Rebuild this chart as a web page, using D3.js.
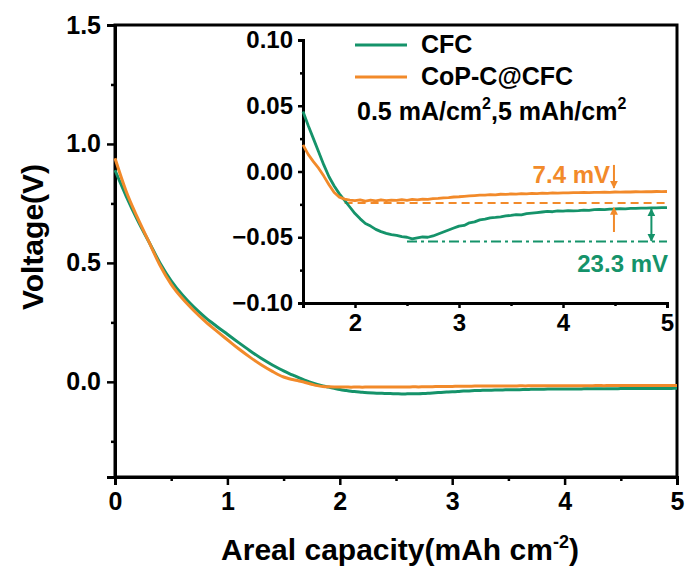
<!DOCTYPE html>
<html>
<head>
<meta charset="utf-8">
<script src="https://cdn.jsdelivr.net/npm/d3@7"></script>
<style>
  html, body { margin: 0; padding: 0; background: #fff; }
  svg text { font-family: "Liberation Sans", Arial, sans-serif; font-weight: bold; }
</style>
</head>
<body>
<svg id="chart" width="686" height="570"></svg>
<script>
// ---------------- DATA ----------------
const capacity = [
  0, 0.1, 0.2, 0.3, 0.4, 0.5, 0.6, 0.7, 0.8, 0.9, 1.0, 1.1, 1.2, 1.3, 1.4, 1.45,
  1.50, 1.55, 1.60, 1.65, 1.70, 1.75, 1.80, 1.85, 1.90, 1.95,
  2.00, 2.05, 2.10, 2.15, 2.20, 2.25, 2.30, 2.35, 2.40, 2.45,
  2.50, 2.55, 2.60, 2.65, 2.70, 2.75, 2.80, 2.85, 2.90, 2.95,
  3.00, 3.05, 3.10, 3.15, 3.20, 3.25, 3.30, 3.35, 3.40, 3.45,
  3.50, 3.55, 3.60, 3.65, 3.70, 3.75, 3.80, 3.85, 3.90, 3.95,
  4.00, 4.05, 4.10, 4.15, 4.20, 4.25, 4.30, 4.35, 4.40, 4.45,
  4.50, 4.55, 4.60, 4.65, 4.70, 4.75, 4.80, 4.85, 4.90, 4.95, 5.00
];
const voltageCFC = [
  0.89, 0.78, 0.68, 0.59, 0.50, 0.425, 0.365, 0.315, 0.272, 0.235, 0.20, 0.165, 0.131, 0.099, 0.071, 0.058,
  0.0457, 0.035, 0.025, 0.015, 0.005, -0.004, -0.011, -0.017, -0.022, -0.027,
  -0.032, -0.036, -0.0395, -0.0415, -0.044, -0.0457, -0.047, -0.048, -0.0485, -0.0495,
  -0.050, -0.0512, -0.0505, -0.0498, -0.050, -0.049, -0.0475, -0.046, -0.0445, -0.043,
  -0.0415, -0.041, -0.039, -0.0383, -0.0368, -0.0362, -0.0352, -0.0349, -0.0345, -0.0338,
  -0.0334, -0.0328, -0.033, -0.032, -0.0316, -0.0312, -0.0308, -0.0304, -0.0306, -0.030,
  -0.0302, -0.0297, -0.0299, -0.0297, -0.0293, -0.0295, -0.029, -0.0288, -0.029, -0.0286,
  -0.0285, -0.0283, -0.0284, -0.028, -0.0281, -0.0278, -0.0279, -0.0276, -0.0277, -0.0275, -0.0274
];
const voltageCoP = [
  0.94, 0.80, 0.69, 0.59, 0.49, 0.41, 0.35, 0.30, 0.255, 0.215, 0.177, 0.139, 0.104, 0.072, 0.044, 0.031,
  0.0203, 0.013, 0.0075, 0.0025, -0.0035, -0.010, -0.016, -0.0195, -0.021, -0.0218,
  -0.0222, -0.0216, -0.0225, -0.0218, -0.0223, -0.0215, -0.0222, -0.0217, -0.022, -0.0214,
  -0.0219, -0.0212, -0.0216, -0.021, -0.0212, -0.0206, -0.0204, -0.020, -0.0199, -0.0194,
  -0.0192, -0.0189, -0.0186, -0.0183, -0.018, -0.0179, -0.0176, -0.0177, -0.0173, -0.0174,
  -0.0171, -0.0172, -0.0169, -0.017, -0.0167, -0.0168, -0.0165, -0.0166, -0.0163, -0.0164,
  -0.0162, -0.0163, -0.016, -0.0161, -0.0159, -0.016, -0.0158, -0.0159, -0.0157, -0.0158,
  -0.0156, -0.0157, -0.0155, -0.0156, -0.0154, -0.0155, -0.0153, -0.0154, -0.0152, -0.0153, -0.0152
];
const seriesNames = ["CFC", "CoP-C@CFC"];
const mainXTicks = [0, 1, 2, 3, 4, 5];
const mainYTicks = [0.0, 0.5, 1.0, 1.5];
const insetXTicks = [2, 3, 4, 5];
const insetYTicks = [0.10, 0.05, 0.00, -0.05, -0.10];
// annotation values (data units)
const coPRefLevel = -0.024;     // dashed reference for CoP-C@CFC
const cfcRefLevel = -0.0533;    // dash-dot reference for CFC
const coPLabel = "7.4 mV";
const cfcLabel = "23.3 mV";

// ---------------- SETUP ----------------
const GREEN = "#15936a";
const ORANGE = "#f28a2a";
const svg = d3.select("#chart");

const x = d3.scaleLinear().domain([0, 5]).range([115, 677]);
const y = d3.scaleLinear().domain([-0.4, 1.5]).range([477, 25]);

const gMain = svg.append("g");

gMain.append("rect").attr("x", x(0)).attr("y", y(1.5))
  .attr("width", x(5) - x(0)).attr("height", y(-0.4) - y(1.5))
  .attr("fill", "none").attr("stroke", "#000").attr("stroke-width", 3);

function styleAxis(g, fs) {
  g.select(".domain").attr("stroke-width", 3);
  g.selectAll(".tick line").attr("stroke-width", 2.5);
  g.selectAll(".tick text").attr("font-size", fs).attr("fill", "#000")
    .style("font-family", "'Liberation Sans', Arial, sans-serif").style("font-weight", "bold");
}

const xAxis = d3.axisBottom(x).tickValues(mainXTicks).tickFormat(d3.format("d")).tickSize(8).tickPadding(7);
const xMinor = d3.axisBottom(x).tickValues([0.5, 1.5, 2.5, 3.5, 4.5]).tickFormat("").tickSize(4);
const yAxis = d3.axisLeft(y).tickValues(mainYTicks).tickFormat(d3.format(".1f")).tickSize(8).tickPadding(6);
const yMinor = d3.axisLeft(y).tickValues([-0.25, 0.25, 0.75, 1.25]).tickFormat("").tickSize(4);

gMain.append("g").attr("transform", `translate(0,${y(-0.4)})`).call(xAxis).call(g => styleAxis(g, 25));
gMain.append("g").attr("transform", `translate(0,${y(-0.4)})`).call(xMinor).call(g => styleAxis(g, 25));
gMain.append("g").attr("transform", `translate(${x(0)},0)`).call(yAxis).call(g => styleAxis(g, 25));
gMain.append("g").attr("transform", `translate(${x(0)},0)`).call(yMinor).call(g => styleAxis(g, 25));

const dataCFC = capacity.map((c, i) => [c, voltageCFC[i]]);
const dataCoP = capacity.map((c, i) => [c, voltageCoP[i]]);
const lineMain = d3.line().x(d => x(d[0])).y(d => y(d[1])).curve(d3.curveMonotoneX);
gMain.append("path").datum(dataCFC).attr("d", lineMain)
  .attr("fill", "none").attr("stroke", GREEN).attr("stroke-width", 3);
gMain.append("path").datum(dataCoP).attr("d", lineMain)
  .attr("fill", "none").attr("stroke", ORANGE).attr("stroke-width", 3);

const xTitle = svg.append("text").attr("x", 400).attr("y", 560).attr("text-anchor", "middle")
  .attr("font-size", 30);
xTitle.append("tspan").text("Areal capacity(mAh cm");
xTitle.append("tspan").attr("font-size", 18).attr("dy", -12).text("-2");
xTitle.append("tspan").attr("dy", 12).text(")");

svg.append("text").attr("transform", "translate(43,237) rotate(-90)")
  .attr("text-anchor", "middle").attr("font-size", 30).text("Voltage(V)");

// ---------------- INSET ----------------
const xi = d3.scaleLinear().domain([1.5, 5]).range([303, 667]);
const yi = d3.scaleLinear().domain([-0.10, 0.10]).range([303, 40]);
const gIn = svg.append("g");

const xiAxis = d3.axisBottom(xi).tickValues(insetXTicks).tickFormat(d3.format("d")).tickSize(5).tickPadding(6);
const xiMinor = d3.axisBottom(xi).tickValues([2.5, 3.5, 4.5]).tickFormat("").tickSize(3);
const yiAxis = d3.axisLeft(yi).tickValues(insetYTicks).tickFormat(d3.format(".2f")).tickSize(5).tickPadding(5);
const yiMinor = d3.axisLeft(yi).tickValues([0.075, 0.025, -0.025, -0.075]).tickFormat("").tickSize(3);
gIn.append("g").attr("transform", `translate(0,${yi(-0.10)})`).call(xiAxis).call(g => styleAxis(g, 24));
gIn.append("g").attr("transform", `translate(0,${yi(-0.10)})`).call(xiMinor).call(g => styleAxis(g, 24));
gIn.append("g").attr("transform", `translate(${xi(1.5)},0)`).call(yiAxis).call(g => styleAxis(g, 24));
gIn.append("g").attr("transform", `translate(${xi(1.5)},0)`).call(yiMinor).call(g => styleAxis(g, 24));

const lineIn = d3.line().x(d => xi(d[0])).y(d => yi(d[1]));
const inCFC = dataCFC.filter(d => d[0] >= 1.5);
const inCoP = dataCoP.filter(d => d[0] >= 1.5);

gIn.append("line").attr("x1", xi(1.9)).attr("x2", xi(5)).attr("y1", yi(coPRefLevel)).attr("y2", yi(coPRefLevel))
  .attr("stroke", ORANGE).attr("stroke-width", 2).attr("stroke-dasharray", "8,5");
gIn.append("line").attr("x1", xi(2.5)).attr("x2", xi(5)).attr("y1", yi(cfcRefLevel)).attr("y2", yi(cfcRefLevel))
  .attr("stroke", GREEN).attr("stroke-width", 2).attr("stroke-dasharray", "10,4,3,4");

gIn.append("path").datum(inCFC).attr("d", lineIn)
  .attr("fill", "none").attr("stroke", GREEN).attr("stroke-width", 2.8).attr("stroke-linejoin", "round");
gIn.append("path").datum(inCoP).attr("d", lineIn)
  .attr("fill", "none").attr("stroke", ORANGE).attr("stroke-width", 2.8).attr("stroke-linejoin", "round");

const defs = svg.append("defs");
function marker(id, color) {
  defs.append("marker").attr("id", id).attr("viewBox", "0 0 10 10")
    .attr("refX", 9).attr("refY", 5).attr("markerWidth", 4).attr("markerHeight", 4)
    .attr("orient", "auto-start-reverse").attr("markerUnits", "strokeWidth")
    .append("path").attr("d", "M0,0L10,5L0,10Z").attr("fill", color);
}
marker("arrO", ORANGE);
marker("arrG", GREEN);

const arrowX = 4.49;
gIn.append("line").attr("x1", xi(arrowX)).attr("x2", xi(arrowX))
  .attr("y1", yi(0.005)).attr("y2", yi(-0.0125))
  .attr("stroke", ORANGE).attr("stroke-width", 2).attr("marker-end", "url(#arrO)");
gIn.append("line").attr("x1", xi(arrowX)).attr("x2", xi(arrowX))
  .attr("y1", yi(-0.046)).attr("y2", yi(-0.0275))
  .attr("stroke", ORANGE).attr("stroke-width", 2).attr("marker-end", "url(#arrO)");
gIn.append("line").attr("x1", xi(4.85)).attr("x2", xi(4.85))
  .attr("y1", yi(cfcRefLevel + 0.0005)).attr("y2", yi(-0.0285))
  .attr("stroke", GREEN).attr("stroke-width", 2)
  .attr("marker-start", "url(#arrG)").attr("marker-end", "url(#arrG)");

gIn.append("text").attr("x", 610).attr("y", 183).attr("text-anchor", "end")
  .attr("font-size", 24).attr("fill", ORANGE).text(coPLabel);
gIn.append("text").attr("x", 668).attr("y", 272).attr("text-anchor", "end")
  .attr("font-size", 24).attr("fill", GREEN).text(cfcLabel);

const legend = gIn.append("g");
[[seriesNames[0], GREEN, 45, 53], [seriesNames[1], ORANGE, 77, 85]].forEach(([name, col, ly, ty]) => {
  legend.append("line").attr("x1", 355).attr("x2", 407).attr("y1", ly).attr("y2", ly)
    .attr("stroke", col).attr("stroke-width", 3);
  legend.append("text").attr("x", 421).attr("y", ty).attr("font-size", 25).attr("fill", "#000").text(name);
});
const cond = legend.append("text").attr("x", 357).attr("y", 120).attr("font-size", 25).attr("fill", "#000");
cond.append("tspan").text("0.5 mA/cm");
cond.append("tspan").attr("font-size", 16).attr("dy", -11).text("2");
cond.append("tspan").attr("dy", 11).text(",5 mAh/cm");
cond.append("tspan").attr("font-size", 16).attr("dy", -11).text("2");
</script>
</body>
</html>
